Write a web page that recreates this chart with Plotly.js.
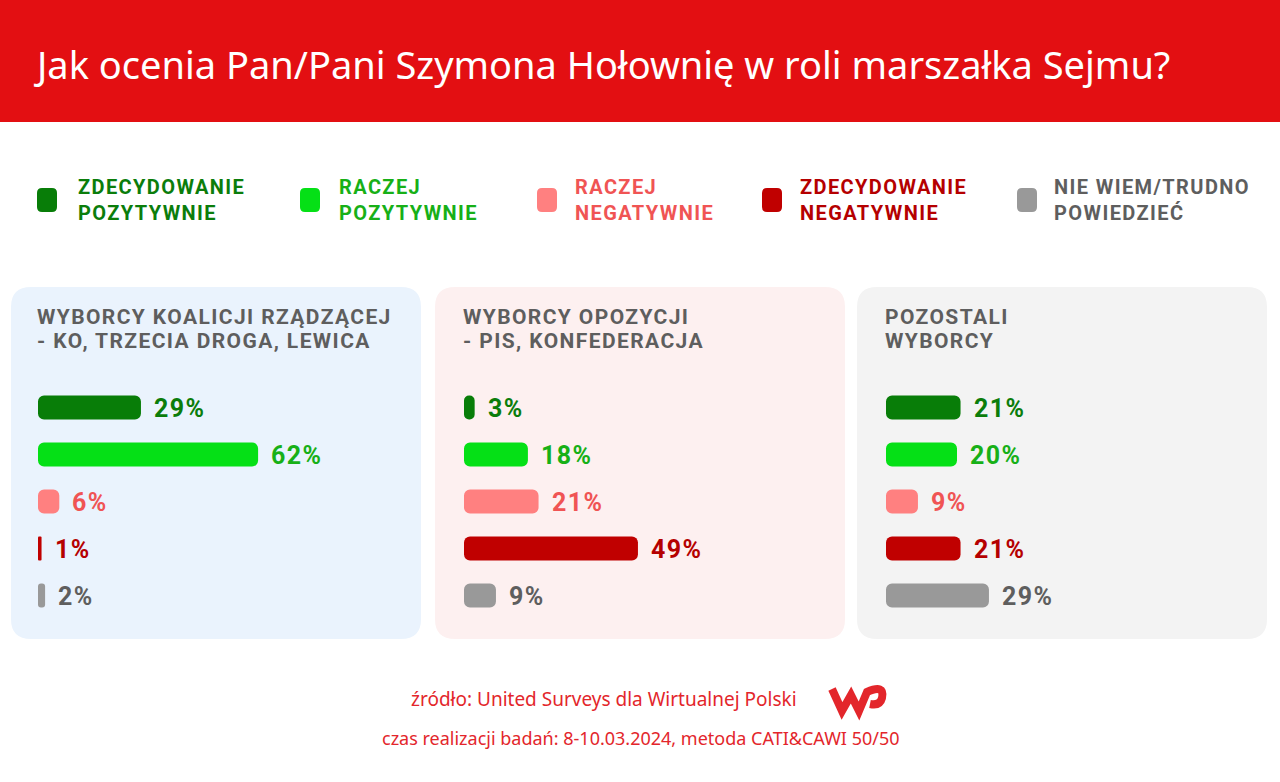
<!DOCTYPE html>
<html><head><meta charset="utf-8">
<script src="https://cdn.plot.ly/plotly-3.0.1.min.js"></script>
<style>
html,body{margin:0;padding:0;background:#fff}
#chart{width:1280px;height:782px}
text.annotation-text[style*="Roboto"]{letter-spacing:1.4px}
</style>
</head><body><div id="chart"></div>
<script>
// ---- data ----
const titleText = 'Jak ocenia Pan/Pani Szymona Hołownię w roli marszałka Sejmu?';
const categories = ['ZDECYDOWANIE<br>POZYTYWNIE','RACZEJ<br>POZYTYWNIE','RACZEJ<br>NEGATYWNIE','ZDECYDOWANIE<br>NEGATYWNIE','NIE WIEM/TRUDNO<br>POWIEDZIEĆ'];
const groupTitles = ['WYBORCY KOALICJI RZĄDZĄCEJ<br>- KO, TRZECIA DROGA, LEWICA','WYBORCY OPOZYCJI<br>- PIS, KONFEDERACJA','POZOSTALI<br>WYBORCY'];
const coalitionValues = [29,62,6,1,2];
const oppositionValues = [3,18,21,49,9];
const otherValues = [21,20,9,21,29];
const sourceText = 'źródło: United Surveys dla Wirtualnej Polski';
const dateText = 'czas realizacji badań: 8-10.03.2024, metoda CATI&CAWI 50/50';

// ---- styles ----
const W = 1280, H = 782;
const barColors = ['#087d08','#05e016','#ff8080','#c00000','#999999'];
const textColors = ['#0b7d0b','#17b017','#f05454','#b50000','#5e5e5e'];
const panelColors = ['#eaf3fd','#fdf0f0','#f3f3f3'];
const groups = [coalitionValues, oppositionValues, otherValues];

const px = x => x / W;
const py = y => 1 - y / H;
function pt(x, y) { return px(x) + ',' + py(y); }
function roundRect(x0, y0, x1, y1, r) {
  return 'M' + pt(x0 + r, y0) + ' L' + pt(x1 - r, y0) + ' Q' + pt(x1, y0) + ' ' + pt(x1, y0 + r) +
    ' L' + pt(x1, y1 - r) + ' Q' + pt(x1, y1) + ' ' + pt(x1 - r, y1) +
    ' L' + pt(x0 + r, y1) + ' Q' + pt(x0, y1) + ' ' + pt(x0, y1 - r) +
    ' L' + pt(x0, y0 + r) + ' Q' + pt(x0, y0) + ' ' + pt(x0 + r, y0) + ' Z';
}

const panelX = [[11, 421], [435, 845], [857, 1267]];
const barStart = [38, 464, 886];
const pxPerUnit = 3.55;
const plotWidth = 370;
const yDomain = [py(619), py(384)];

const traces = [];
const layout = {
  width: W, height: H,
  margin: {l: 0, r: 0, t: 0, b: 0},
  paper_bgcolor: '#ffffff', plot_bgcolor: 'rgba(0,0,0,0)',
  showlegend: false,
  bargap: 0.49,
  title: {
    text: titleText, x: px(37), xanchor: 'left', xref: 'paper',
    y: py(66), yanchor: 'middle', yref: 'paper',
    font: {family: 'Noto Sans', size: 38, color: '#ffffff'}
  },
  shapes: [], annotations: []
};

// header band
layout.shapes.push({type: 'rect', xref: 'paper', yref: 'paper', x0: 0, x1: 1, y0: py(122), y1: 1,
  fillcolor: '#e30f12', line: {width: 0}, layer: 'below'});

// legend
const legSquareX = [37, 300, 537, 762, 1017];
const legTextX = [78, 339, 575, 800, 1054];
categories.forEach((c, i) => {
  layout.shapes.push({type: 'path', xref: 'paper', yref: 'paper',
    path: roundRect(legSquareX[i], 188, legSquareX[i] + 20, 212, 5),
    fillcolor: barColors[i], line: {width: 0}});
  layout.annotations.push({xref: 'paper', yref: 'paper', x: px(legTextX[i]), y: py(200), xshift: -2,
    xanchor: 'left', yanchor: 'middle', align: 'left', showarrow: false, text: c,
    font: {family: 'Roboto', size: 20, weight: 700, color: textColors[i]}});
});

// panels
groups.forEach((vals, g) => {
  const n = g === 0 ? '' : String(g + 1);
  layout.shapes.push({type: 'path', xref: 'paper', yref: 'paper', layer: 'below',
    path: roundRect(panelX[g][0], 287, panelX[g][1], 639, 20),
    fillcolor: panelColors[g], line: {width: 0}});
  groupTitles[g].split('<br>').forEach((line, k) => {
    layout.annotations.push({xref: 'paper', yref: 'paper', x: px(barStart[g] - 3), y: py(317 + 24 * k),
      xanchor: 'left', yanchor: 'middle', align: 'left', showarrow: false, text: line,
      font: {family: 'Roboto', size: 21, weight: 700, color: '#5e5e5e'}});
  });
  layout['xaxis' + n] = {domain: [px(barStart[g]), px(barStart[g] + plotWidth)],
    range: [0, plotWidth / pxPerUnit], visible: false, fixedrange: true, anchor: 'y' + n};
  layout['yaxis' + n] = {domain: yDomain, type: 'category', range: [4.5, -0.5],
    visible: false, fixedrange: true, anchor: 'x' + n};
  // explicit base so that both ends of each bar get rounded corners
  traces.push({type: 'bar', orientation: 'h', base: 0, x: vals,
    y: categories, xaxis: 'x' + n, yaxis: 'y' + n,
    marker: {color: barColors, cornerradius: 6, line: {width: 0}}, hoverinfo: 'skip'});
  vals.forEach((v, i) => {
    layout.annotations.push({xref: 'x' + n, yref: 'y' + n, x: v, y: categories[i],
      xanchor: 'left', yanchor: 'middle', xshift: 11, yshift: -1, showarrow: false, text: v + '%',
      font: {family: 'Roboto', size: 25, weight: 700, color: textColors[i]}});
  });
});

// footer
layout.annotations.push({xref: 'paper', yref: 'paper', x: px(604), y: py(699), xanchor: 'center', yanchor: 'middle',
  showarrow: false, text: sourceText, font: {family: 'Noto Sans', size: 19, color: '#e3262b'}});
layout.annotations.push({xref: 'paper', yref: 'paper', x: px(641), y: py(738), xanchor: 'center', yanchor: 'middle',
  showarrow: false, text: dateText, font: {family: 'Noto Sans', size: 18, color: '#e3262b'}});
// WP logo (drawn)
layout.shapes.push({type: 'path', xref: 'paper', yref: 'paper',
  path: 'M' + pt(832, 689) + ' L' + pt(842, 711) + ' L' + pt(851, 695) + ' L' + pt(859, 711) +
        ' L' + pt(867, 692) + ' Q' + pt(885, 684) + ' ' + pt(882, 698) + ' Q' + pt(880, 706) + ' ' + pt(870, 704),
  line: {color: '#e3262b', width: 8}, fillcolor: 'rgba(0,0,0,0)'});

Plotly.newPlot('chart', traces, layout, {displayModeBar: false, staticPlot: true});
</script></body></html>
